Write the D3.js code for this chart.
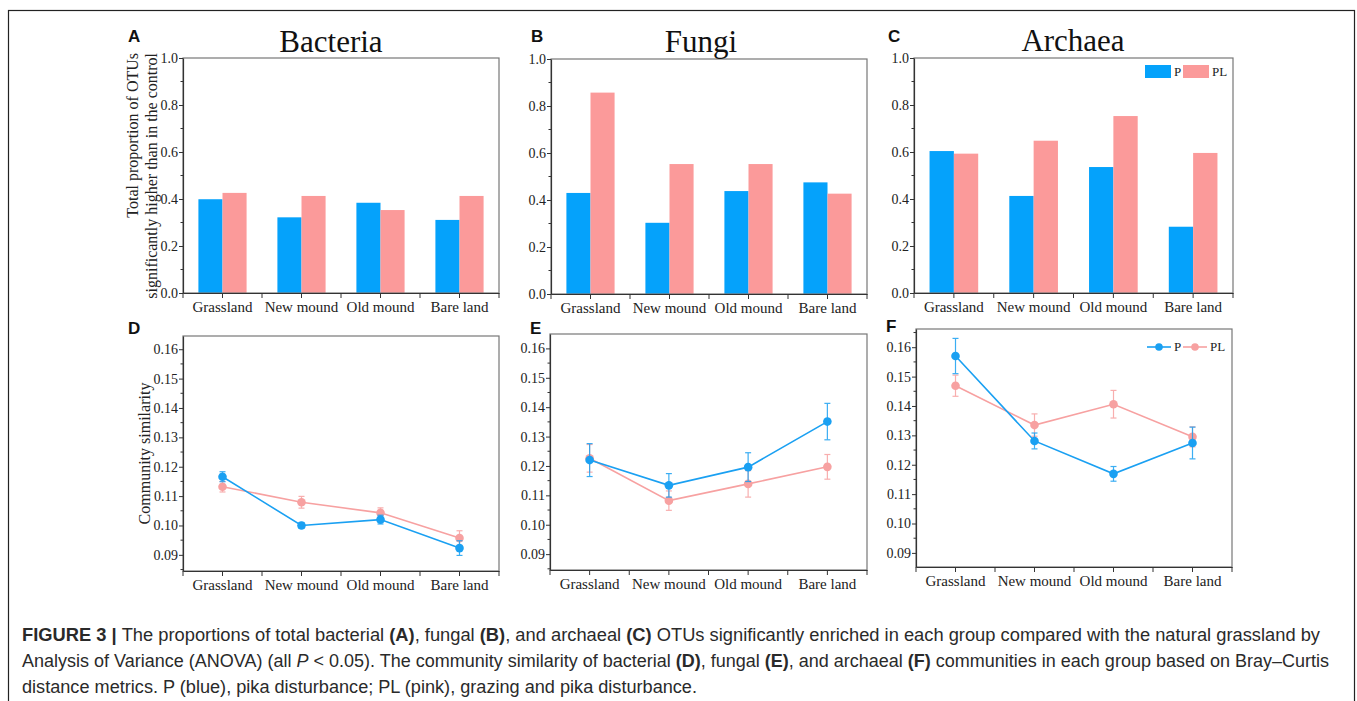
<!DOCTYPE html>
<html>
<head>
<meta charset="utf-8">
<script src="https://cdn.jsdelivr.net/npm/d3@7"></script>
<style>
  body { margin: 0; background: #fff; }
  svg { display: block; }
</style>
</head>
<body>
<svg id="fig" width="1357" height="701"></svg>
<script>
// Data
var categories = ["Grassland", "New mound", "Old mound", "Bare land"];
var seriesNames = ["P", "PL"];

// Top row: proportion of OTUs higher than control
var bacteriaP  = [0.399, 0.322, 0.384, 0.311];
var bacteriaPL = [0.426, 0.413, 0.353, 0.413];
var fungiP     = [0.430, 0.303, 0.438, 0.475];
var fungiPL    = [0.857, 0.553, 0.553, 0.427];
var archaeaP   = [0.604, 0.413, 0.536, 0.282];
var archaeaPL  = [0.593, 0.648, 0.753, 0.596];

// Bottom row: community similarity (mean, error)
var bacSimP     = [0.1166, 0.1000, 0.1020, 0.0923];
var bacSimPErr  = [0.0017, 0.0010, 0.0015, 0.0025];
var bacSimPL    = [0.1132, 0.1079, 0.1043, 0.0957];
var bacSimPLErr = [0.0018, 0.0020, 0.0017, 0.0025];
var funSimP     = [0.1220, 0.1134, 0.1196, 0.1351];
var funSimPErr  = [0.0056, 0.0040, 0.0049, 0.0062];
var funSimPL    = [0.1226, 0.1082, 0.1139, 0.1197];
var funSimPLErr = [0.0047, 0.0033, 0.0045, 0.0042];
var arcSimP     = [0.1570, 0.1281, 0.1169, 0.1274];
var arcSimPErr  = [0.0060, 0.0027, 0.0025, 0.0054];
var arcSimPL    = [0.1469, 0.1335, 0.1406, 0.1295];
var arcSimPLErr = [0.0036, 0.0038, 0.0047, 0.0034];

var barTicks  = [0.0, 0.2, 0.4, 0.6, 0.8, 1.0];
var lineTicks = [0.09, 0.10, 0.11, 0.12, 0.13, 0.14, 0.15, 0.16];

var blue = "#05a2fb", pink = "#fb9a9a";
var lineBlue = "#1aa0f2", linePink = "#f7a1a1";
var serif = "'Liberation Serif', 'Times New Roman', serif";
var sans = "'Liberation Sans', Arial, sans-serif";

var svg = d3.select("#fig");

// outer frame of the figure
svg.append("rect")
    .attr("x", 8.5).attr("y", 10.5)
    .attr("width", 1346).attr("height", 705)
    .attr("fill", "none").attr("stroke", "#222").attr("stroke-width", 1.2);

// panel boxes (frame in pixels)
var barPanels = [
  {letter: "A", title: "Bacteria", x0: 183, x1: 499, y0: 58, y1: 293, p: bacteriaP, pl: bacteriaPL, tx: 331, ty: 52, lx: 128},
  {letter: "B", title: "Fungi",    x0: 551, x1: 867, y0: 59, y1: 294, p: fungiP, pl: fungiPL, tx: 701, ty: 52, lx: 531},
  {letter: "C", title: "Archaea",  x0: 914, x1: 1233, y0: 58, y1: 293, p: archaeaP, pl: archaeaPL, tx: 1073, ty: 51, lx: 888}
];

var linePanels = [
  {letter: "D", x0: 183, x1: 499, y0: 336, y1: 571, dom: [0.0845, 0.1645], lx: 128, ly: 334,
   p: bacSimP, pe: bacSimPErr, pl: bacSimPL, ple: bacSimPLErr},
  {letter: "E", x0: 550, x1: 867, y0: 334, y1: 570, dom: [0.0846, 0.1649], lx: 530, ly: 334,
   p: funSimP, pe: funSimPErr, pl: funSimPL, ple: funSimPLErr},
  {letter: "F", x0: 916, x1: 1232, y0: 329, y1: 567, dom: [0.0852, 0.1662], lx: 886, ly: 332,
   p: arcSimP, pe: arcSimPErr, pl: arcSimPL, ple: arcSimPLErr}
];

// shared frame + ticks drawing
function drawFrame(g, pn, x, y, ticks, fmt) {
  g.append("rect")
      .attr("x", pn.x0).attr("y", pn.y0)
      .attr("width", pn.x1 - pn.x0).attr("height", pn.y1 - pn.y0)
      .attr("fill", "none").attr("stroke", "#777").attr("stroke-width", 1.2);

  var yAxis = d3.axisLeft(y).tickValues(ticks).tickFormat(d3.format(fmt))
      .tickSize(4).tickSizeOuter(0).tickPadding(1);
  var ya = g.append("g").attr("transform", "translate(" + pn.x0 + ",0)").call(yAxis);
  ya.select(".domain").attr("stroke", "#333").attr("stroke-width", 1.2);
  ya.selectAll(".tick line").attr("stroke", "#333");
  ya.selectAll("text").attr("font-family", serif).attr("font-size", 14).attr("fill", "#222");

  // minor y ticks at half steps
  var step = ticks[1] - ticks[0];
  var minors = ticks.map(function(t) { return t + step / 2; })
      .concat([ticks[0] - step / 2])
      .filter(function(t) { var py = y(t); return py > pn.y0 && py < pn.y1; });
  g.selectAll(".minor").data(minors).enter().append("line")
      .attr("x1", pn.x0 - 2.5).attr("x2", pn.x0)
      .attr("y1", function(d) { return y(d); }).attr("y2", function(d) { return y(d); })
      .attr("stroke", "#333");

  // x axis: labels at band centres, ticks at centres and band edges
  var xAxis = d3.axisBottom(x).tickSize(5).tickSizeOuter(0).tickPadding(3);
  var xa = g.append("g").attr("transform", "translate(0," + pn.y1 + ")").call(xAxis);
  xa.select(".domain").attr("stroke", "#333").attr("stroke-width", 1.2);
  xa.selectAll(".tick line").attr("stroke", "#333");
  xa.selectAll("text").attr("font-family", serif).attr("font-size", 15).attr("fill", "#222");
  var edges = d3.range(categories.length + 1).map(function(i) { return pn.x0 + i * x.step(); });
  g.selectAll(".edge").data(edges).enter().append("line")
      .attr("x1", function(d) { return d; }).attr("x2", function(d) { return d; })
      .attr("y1", pn.y1).attr("y2", pn.y1 + 5)
      .attr("stroke", "#333");
}

function panelLetter(letter, lx, ly) {
  svg.append("text").attr("x", lx).attr("y", ly)
      .attr("font-family", sans).attr("font-weight", "bold").attr("font-size", 17)
      .attr("fill", "#111").text(letter);
}

// ---------- top row: bar charts ----------
barPanels.forEach(function(pn, pi) {
  var g = svg.append("g");
  var x = d3.scaleBand().domain(categories).range([pn.x0, pn.x1]).paddingInner(0).paddingOuter(0);
  var y = d3.scaleLinear().domain([0, 1]).range([pn.y1, pn.y0]);
  var sub = d3.scaleBand().domain(seriesNames).range([0, x.bandwidth() * 0.61]);
  var off = (x.bandwidth() - sub.range()[1]) / 2;

  var rows = categories.map(function(c, i) { return {cat: c, P: pn.p[i], PL: pn.pl[i]}; });
  var grp = g.selectAll(".grp").data(rows).enter().append("g")
      .attr("transform", function(d) { return "translate(" + (x(d.cat) + off) + ",0)"; });
  grp.selectAll("rect")
      .data(function(d) { return seriesNames.map(function(s) { return {s: s, v: d[s]}; }); })
      .enter().append("rect")
      .attr("x", function(d) { return sub(d.s); })
      .attr("width", sub.bandwidth())
      .attr("y", function(d) { return y(d.v); })
      .attr("height", function(d) { return pn.y1 - y(d.v); })
      .attr("fill", function(d) { return d.s === "P" ? blue : pink; });

  drawFrame(g, pn, x, y, barTicks, ".1f");

  svg.append("text").attr("x", pn.tx).attr("y", pn.ty).attr("text-anchor", "middle")
      .attr("font-family", serif).attr("font-size", 31).attr("fill", "#111").text(pn.title);
  panelLetter(pn.letter, pn.lx, 42);

  if (pi === 0) {
    var lab = svg.append("text").attr("transform", "translate(138,53) rotate(-90)")
        .attr("text-anchor", "end").attr("font-family", serif).attr("font-size", 16).attr("fill", "#222");
    lab.append("tspan").attr("x", 0).attr("y", 0).text("Total proportion of OTUs");
    lab.append("tspan").attr("x", 0).attr("y", 19).text("significantly higher than in the control");
  }
  if (pi === 2) {
    var lg = svg.append("g").attr("font-family", serif).attr("font-size", 13).attr("fill", "#222");
    lg.append("rect").attr("x", 1145).attr("y", 65).attr("width", 26).attr("height", 13).attr("fill", blue);
    lg.append("text").attr("x", 1174).attr("y", 76).text("P");
    lg.append("rect").attr("x", 1183).attr("y", 65).attr("width", 26).attr("height", 13).attr("fill", pink);
    lg.append("text").attr("x", 1212).attr("y", 76).text("PL");
  }
});

// ---------- bottom row: line charts with error bars ----------
linePanels.forEach(function(pn, pi) {
  var g = svg.append("g");
  var x = d3.scaleBand().domain(categories).range([pn.x0, pn.x1]).padding(0);
  var y = d3.scaleLinear().domain(pn.dom).range([pn.y1, pn.y0]);
  var cx = function(i) { return x(categories[i]) + x.bandwidth() / 2; };

  drawFrame(g, pn, x, y, lineTicks, ".2f");

  var series = [
    {name: "P", vals: pn.p, errs: pn.pe, col: lineBlue},
    {name: "PL", vals: pn.pl, errs: pn.ple, col: linePink}
  ];
  // PL drawn first, P on top
  series.slice().reverse().forEach(function(s) {
    var pts = s.vals.map(function(v, i) { return {i: i, v: v, e: s.errs[i]}; });
    var sg = g.append("g");
    var eb = sg.selectAll(".eb").data(pts).enter().append("g").attr("stroke", s.col)
        .attr("stroke-width", 1.2).attr("opacity", 0.85);
    eb.append("line").attr("x1", function(d) { return cx(d.i); }).attr("x2", function(d) { return cx(d.i); })
        .attr("y1", function(d) { return y(d.v - d.e); }).attr("y2", function(d) { return y(d.v + d.e); });
    [-1, 1].forEach(function(sgn) {
      eb.append("line")
          .attr("x1", function(d) { return cx(d.i) - 3; }).attr("x2", function(d) { return cx(d.i) + 3; })
          .attr("y1", function(d) { return y(d.v + sgn * d.e); }).attr("y2", function(d) { return y(d.v + sgn * d.e); });
    });
    sg.append("path").datum(pts)
        .attr("fill", "none").attr("stroke", s.col).attr("stroke-width", 1.6)
        .attr("d", d3.line().x(function(d) { return cx(d.i); }).y(function(d) { return y(d.v); }));
    sg.selectAll("circle").data(pts).enter().append("circle")
        .attr("cx", function(d) { return cx(d.i); }).attr("cy", function(d) { return y(d.v); })
        .attr("r", 4.3).attr("fill", s.col);
  });

  panelLetter(pn.letter, pn.lx, pn.ly);

  if (pi === 0) {
    svg.append("text").attr("transform", "translate(150," + ((pn.y0 + pn.y1) / 2) + ") rotate(-90)")
        .attr("text-anchor", "middle").attr("font-family", serif).attr("font-size", 16).attr("fill", "#222")
        .text("Community similarity");
  }
  if (pi === 2) {
    var lg = svg.append("g").attr("font-family", serif).attr("font-size", 13).attr("fill", "#222");
    [{s: "P", c: lineBlue, x: 1147}, {s: "PL", c: linePink, x: 1183}].forEach(function(it) {
      lg.append("line").attr("x1", it.x).attr("x2", it.x + 24).attr("y1", 347).attr("y2", 347)
          .attr("stroke", it.c).attr("stroke-width", 1.6);
      lg.append("circle").attr("cx", it.x + 12).attr("cy", 347).attr("r", 3.8).attr("fill", it.c);
      lg.append("text").attr("x", it.x + 27).attr("y", 351).text(it.s);
    });
  }
});

// ---------- caption ----------
var capLines = [
  [["FIGURE 3 | ", "b"], ["The proportions of total bacterial ", ""], ["(A)", "b"], [", fungal ", ""], ["(B)", "b"],
   [", and archaeal ", ""], ["(C)", "b"], [" OTUs significantly enriched in each group compared with the natural grassland by", ""]],
  [["Analysis of Variance (ANOVA) (all ", ""], ["P", "i"], [" < 0.05). The community similarity of bacterial ", ""], ["(D)", "b"],
   [", fungal ", ""], ["(E)", "b"], [", and archaeal ", ""], ["(F)", "b"], [" communities in each group based on Bray\u2013Curtis", ""]],
  [["distance metrics. P (blue), pika disturbance; PL (pink), grazing and pika disturbance.", ""]]
];
var capY = [641, 667, 693];
var capEnd = [1320, 1329, 697]; // right edge of each caption line in the original
var cap = svg.append("g").attr("font-family", sans).attr("fill", "#2a2a2a").attr("font-size", 17.5);
capLines.forEach(function(parts, li) {
  var t = cap.append("text").attr("x", 22).attr("y", capY[li])
      .attr("textLength", capEnd[li] - 22).attr("lengthAdjust", "spacingAndGlyphs");
  parts.forEach(function(p) {
    t.append("tspan").text(p[0])
        .attr("font-weight", p[1] === "b" ? "bold" : null)
        .attr("font-style", p[1] === "i" ? "italic" : null);
  });
});
</script>
</body>
</html>
